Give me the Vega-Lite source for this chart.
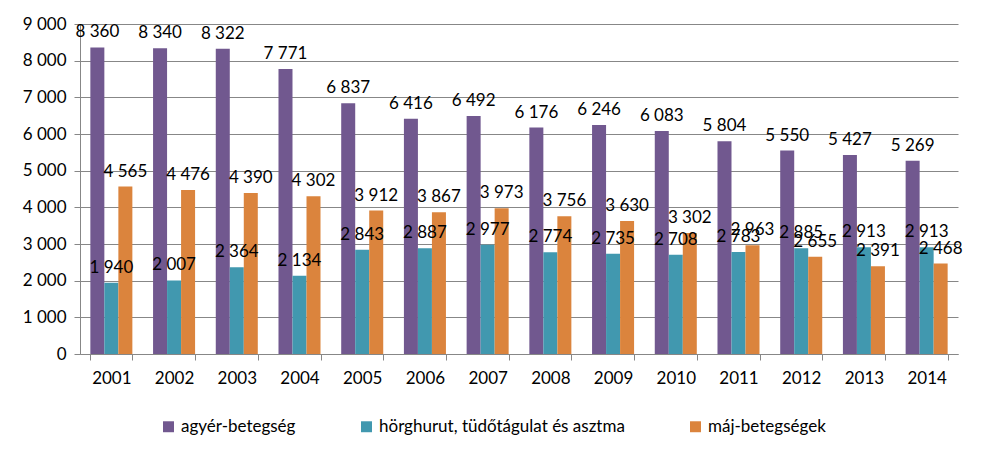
{
  "$schema": "https://vega.github.io/schema/vega-lite/v6.json",
  "width": 878,
  "height": 330,
  "autosize": "none",
  "padding": {"left": 80, "top": 24, "right": 24, "bottom": 104},
  "background": "white",
  "config": {
    "locale": {"number": {"decimal": ",", "thousands": " ", "grouping": [3], "currency": ["", ""]}},
    "font": "Lato",
    "view": {"stroke": null}
  },
  "data": {
    "values": [
      {"year": "2001", "s": "agyér-betegség", "v": 8360},
      {"year": "2001", "s": "hörghurut, tüdőtágulat és asztma", "v": 1940},
      {"year": "2001", "s": "máj-betegségek", "v": 4565},
      {"year": "2002", "s": "agyér-betegség", "v": 8340},
      {"year": "2002", "s": "hörghurut, tüdőtágulat és asztma", "v": 2007},
      {"year": "2002", "s": "máj-betegségek", "v": 4476},
      {"year": "2003", "s": "agyér-betegség", "v": 8322},
      {"year": "2003", "s": "hörghurut, tüdőtágulat és asztma", "v": 2364},
      {"year": "2003", "s": "máj-betegségek", "v": 4390},
      {"year": "2004", "s": "agyér-betegség", "v": 7771},
      {"year": "2004", "s": "hörghurut, tüdőtágulat és asztma", "v": 2134},
      {"year": "2004", "s": "máj-betegségek", "v": 4302},
      {"year": "2005", "s": "agyér-betegség", "v": 6837},
      {"year": "2005", "s": "hörghurut, tüdőtágulat és asztma", "v": 2843},
      {"year": "2005", "s": "máj-betegségek", "v": 3912},
      {"year": "2006", "s": "agyér-betegség", "v": 6416},
      {"year": "2006", "s": "hörghurut, tüdőtágulat és asztma", "v": 2887},
      {"year": "2006", "s": "máj-betegségek", "v": 3867},
      {"year": "2007", "s": "agyér-betegség", "v": 6492},
      {"year": "2007", "s": "hörghurut, tüdőtágulat és asztma", "v": 2977},
      {"year": "2007", "s": "máj-betegségek", "v": 3973},
      {"year": "2008", "s": "agyér-betegség", "v": 6176},
      {"year": "2008", "s": "hörghurut, tüdőtágulat és asztma", "v": 2774},
      {"year": "2008", "s": "máj-betegségek", "v": 3756},
      {"year": "2009", "s": "agyér-betegség", "v": 6246},
      {"year": "2009", "s": "hörghurut, tüdőtágulat és asztma", "v": 2735},
      {"year": "2009", "s": "máj-betegségek", "v": 3630},
      {"year": "2010", "s": "agyér-betegség", "v": 6083},
      {"year": "2010", "s": "hörghurut, tüdőtágulat és asztma", "v": 2708},
      {"year": "2010", "s": "máj-betegségek", "v": 3302},
      {"year": "2011", "s": "agyér-betegség", "v": 5804},
      {"year": "2011", "s": "hörghurut, tüdőtágulat és asztma", "v": 2783},
      {"year": "2011", "s": "máj-betegségek", "v": 2963},
      {"year": "2012", "s": "agyér-betegség", "v": 5550},
      {"year": "2012", "s": "hörghurut, tüdőtágulat és asztma", "v": 2885},
      {"year": "2012", "s": "máj-betegségek", "v": 2655},
      {"year": "2013", "s": "agyér-betegség", "v": 5427},
      {"year": "2013", "s": "hörghurut, tüdőtágulat és asztma", "v": 2913},
      {"year": "2013", "s": "máj-betegségek", "v": 2391},
      {"year": "2014", "s": "agyér-betegség", "v": 5269},
      {"year": "2014", "s": "hörghurut, tüdőtágulat és asztma", "v": 2913},
      {"year": "2014", "s": "máj-betegségek", "v": 2468}
    ]
  },
  "encoding": {
    "x": {
      "field": "year", "type": "nominal", "title": null,
      "scale": {"paddingInner": 0.33, "paddingOuter": 0.165},
      "axis": {
        "labelAngle": 0, "labelFontSize": 17, "labelColor": "#000", "labelPadding": 10,
        "domainColor": "#878787", "tickColor": "#878787", "tickBand": "extent", "tickSize": 6,
        "labelFont": "Lato"
      }
    },
    "xOffset": {"field": "s", "type": "nominal", "sort": null, "scale": {"paddingInner": 0, "paddingOuter": 0}},
    "y": {
      "field": "v", "type": "quantitative", "title": null,
      "scale": {"domain": [0, 9000], "nice": false},
      "axis": {
        "values": [0, 1000, 2000, 3000, 4000, 5000, 6000, 7000, 8000, 9000],
        "format": ",d", "labelFontSize": 17, "labelColor": "#000", "labelPadding": 8,
        "domainColor": "#878787", "tickColor": "#878787", "tickSize": 6,
        "gridColor": "#878787", "gridWidth": 1, "labelFont": "Lato"
      }
    }
  },
  "layer": [
    {
      "mark": {"type": "bar"},
      "encoding": {
        "color": {
          "field": "s", "type": "nominal", "sort": null,
          "scale": {
            "domain": ["agyér-betegség", "hörghurut, tüdőtágulat és asztma", "máj-betegségek"],
            "range": ["#71588F", "#4198AF", "#DB843D"]
          },
          "legend": {
            "orient": "none", "direction": "horizontal", "title": null,
            "legendX": 80, "legendY": 394,
            "symbolType": "square", "symbolSize": 120, "symbolStrokeWidth": 0,
            "labelFontSize": 17, "labelColor": "#000", "columnPadding": 62, "labelFont": "Lato",
            "labelLimit": 0
          }
        }
      }
    },
    {
      "mark": {"type": "text", "baseline": "bottom", "dy": -6, "fontSize": 17, "color": "#000", "font": "Lato"},
      "encoding": {
        "text": {"field": "v", "type": "quantitative", "format": ",d"}
      }
    }
  ]
}
